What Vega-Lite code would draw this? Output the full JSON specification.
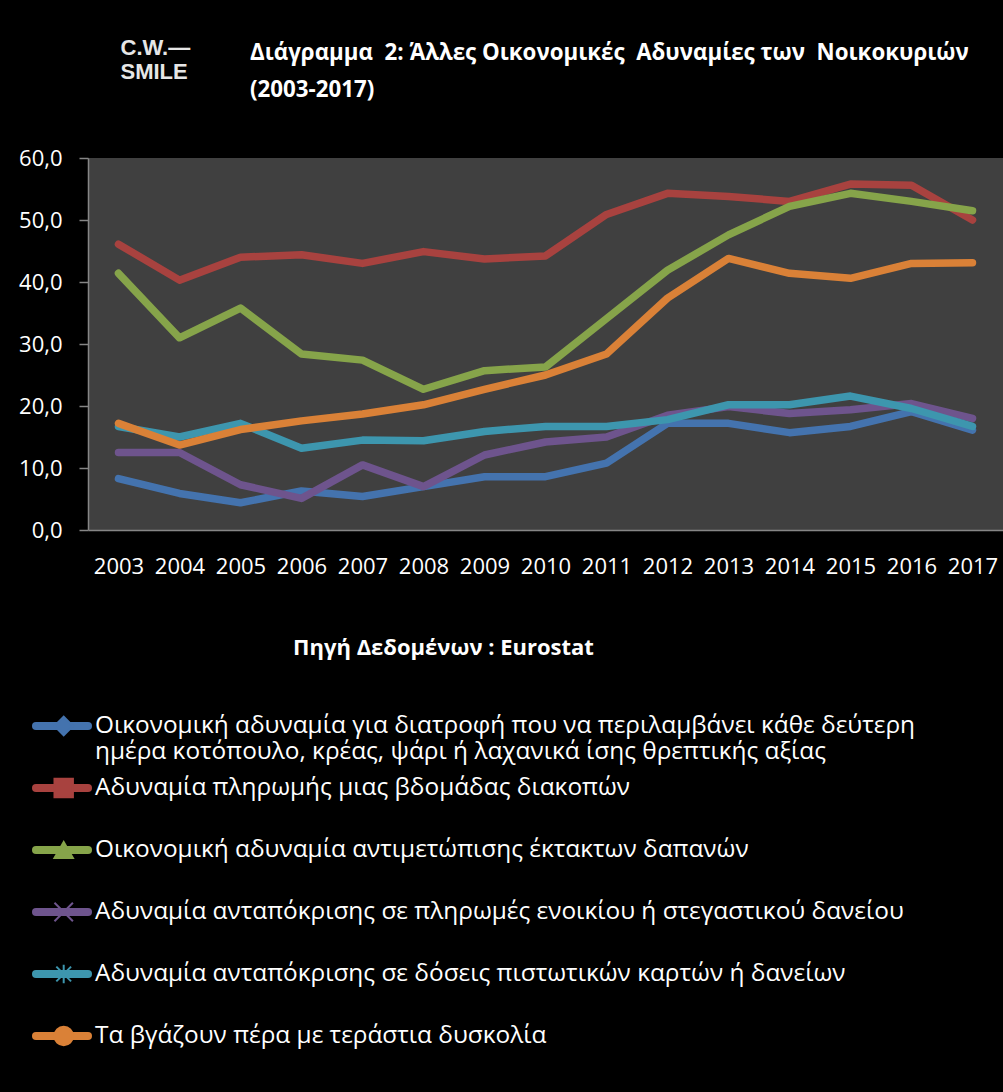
{
  "$schema": "https://vega.github.io/schema/vega-lite/v6.json",
  "width": 915,
  "height": 372,
  "autosize": {"type": "none"},
  "padding": {"left": 88, "top": 158, "right": 0, "bottom": 562},
  "background": "#000000",
  "config": {"view": {"fill": "#404040", "stroke": null}, "font": "Open Sans"},
  "title": {
    "text": ["Διάγραμμα\u00a0 2: Άλλες Οικονομικές\u00a0 Αδυναμίες των\u00a0 Νοικοκυριών", "(2003-2017)"],
    "anchor": "start",
    "frame": "group",
    "dx": 162,
    "dy": 65,
    "offset": 0,
    "font": "Open Sans",
    "fontSize": 22.3,
    "fontWeight": "bold",
    "color": "#ffffff",
    "lineHeight": 37
  },
  "data": {
    "values": [
      {"series": "Οικονομική αδυναμία για διατροφή που να περιλαμβάνει κάθε δεύτερη ημέρα κοτόπουλο, κρέας, ψάρι ή λαχανικά ίσης θρεπτικής αξίας", "year": 2003, "value": 8.3},
      {"series": "Οικονομική αδυναμία για διατροφή που να περιλαμβάνει κάθε δεύτερη ημέρα κοτόπουλο, κρέας, ψάρι ή λαχανικά ίσης θρεπτικής αξίας", "year": 2004, "value": 5.9},
      {"series": "Οικονομική αδυναμία για διατροφή που να περιλαμβάνει κάθε δεύτερη ημέρα κοτόπουλο, κρέας, ψάρι ή λαχανικά ίσης θρεπτικής αξίας", "year": 2005, "value": 4.4},
      {"series": "Οικονομική αδυναμία για διατροφή που να περιλαμβάνει κάθε δεύτερη ημέρα κοτόπουλο, κρέας, ψάρι ή λαχανικά ίσης θρεπτικής αξίας", "year": 2006, "value": 6.3},
      {"series": "Οικονομική αδυναμία για διατροφή που να περιλαμβάνει κάθε δεύτερη ημέρα κοτόπουλο, κρέας, ψάρι ή λαχανικά ίσης θρεπτικής αξίας", "year": 2007, "value": 5.4},
      {"series": "Οικονομική αδυναμία για διατροφή που να περιλαμβάνει κάθε δεύτερη ημέρα κοτόπουλο, κρέας, ψάρι ή λαχανικά ίσης θρεπτικής αξίας", "year": 2008, "value": 7.0},
      {"series": "Οικονομική αδυναμία για διατροφή που να περιλαμβάνει κάθε δεύτερη ημέρα κοτόπουλο, κρέας, ψάρι ή λαχανικά ίσης θρεπτικής αξίας", "year": 2009, "value": 8.6},
      {"series": "Οικονομική αδυναμία για διατροφή που να περιλαμβάνει κάθε δεύτερη ημέρα κοτόπουλο, κρέας, ψάρι ή λαχανικά ίσης θρεπτικής αξίας", "year": 2010, "value": 8.6},
      {"series": "Οικονομική αδυναμία για διατροφή που να περιλαμβάνει κάθε δεύτερη ημέρα κοτόπουλο, κρέας, ψάρι ή λαχανικά ίσης θρεπτικής αξίας", "year": 2011, "value": 10.8},
      {"series": "Οικονομική αδυναμία για διατροφή που να περιλαμβάνει κάθε δεύτερη ημέρα κοτόπουλο, κρέας, ψάρι ή λαχανικά ίσης θρεπτικής αξίας", "year": 2012, "value": 17.2},
      {"series": "Οικονομική αδυναμία για διατροφή που να περιλαμβάνει κάθε δεύτερη ημέρα κοτόπουλο, κρέας, ψάρι ή λαχανικά ίσης θρεπτικής αξίας", "year": 2013, "value": 17.2},
      {"series": "Οικονομική αδυναμία για διατροφή που να περιλαμβάνει κάθε δεύτερη ημέρα κοτόπουλο, κρέας, ψάρι ή λαχανικά ίσης θρεπτικής αξίας", "year": 2014, "value": 15.7},
      {"series": "Οικονομική αδυναμία για διατροφή που να περιλαμβάνει κάθε δεύτερη ημέρα κοτόπουλο, κρέας, ψάρι ή λαχανικά ίσης θρεπτικής αξίας", "year": 2015, "value": 16.7},
      {"series": "Οικονομική αδυναμία για διατροφή που να περιλαμβάνει κάθε δεύτερη ημέρα κοτόπουλο, κρέας, ψάρι ή λαχανικά ίσης θρεπτικής αξίας", "year": 2016, "value": 19.1},
      {"series": "Οικονομική αδυναμία για διατροφή που να περιλαμβάνει κάθε δεύτερη ημέρα κοτόπουλο, κρέας, ψάρι ή λαχανικά ίσης θρεπτικής αξίας", "year": 2017, "value": 16.1},
      {"series": "Αδυναμία πληρωμής μιας βδομάδας διακοπών", "year": 2003, "value": 46.1},
      {"series": "Αδυναμία πληρωμής μιας βδομάδας διακοπών", "year": 2004, "value": 40.3},
      {"series": "Αδυναμία πληρωμής μιας βδομάδας διακοπών", "year": 2005, "value": 44.0},
      {"series": "Αδυναμία πληρωμής μιας βδομάδας διακοπών", "year": 2006, "value": 44.4},
      {"series": "Αδυναμία πληρωμής μιας βδομάδας διακοπών", "year": 2007, "value": 43.0},
      {"series": "Αδυναμία πληρωμής μιας βδομάδας διακοπών", "year": 2008, "value": 44.9},
      {"series": "Αδυναμία πληρωμής μιας βδομάδας διακοπών", "year": 2009, "value": 43.7},
      {"series": "Αδυναμία πληρωμής μιας βδομάδας διακοπών", "year": 2010, "value": 44.2},
      {"series": "Αδυναμία πληρωμής μιας βδομάδας διακοπών", "year": 2011, "value": 50.9},
      {"series": "Αδυναμία πληρωμής μιας βδομάδας διακοπών", "year": 2012, "value": 54.3},
      {"series": "Αδυναμία πληρωμής μιας βδομάδας διακοπών", "year": 2013, "value": 53.8},
      {"series": "Αδυναμία πληρωμής μιας βδομάδας διακοπών", "year": 2014, "value": 53.0},
      {"series": "Αδυναμία πληρωμής μιας βδομάδας διακοπών", "year": 2015, "value": 55.8},
      {"series": "Αδυναμία πληρωμής μιας βδομάδας διακοπών", "year": 2016, "value": 55.6},
      {"series": "Αδυναμία πληρωμής μιας βδομάδας διακοπών", "year": 2017, "value": 50.0},
      {"series": "Οικονομική αδυναμία αντιμετώπισης έκτακτων δαπανών", "year": 2003, "value": 41.4},
      {"series": "Οικονομική αδυναμία αντιμετώπισης έκτακτων δαπανών", "year": 2004, "value": 31.0},
      {"series": "Οικονομική αδυναμία αντιμετώπισης έκτακτων δαπανών", "year": 2005, "value": 35.8},
      {"series": "Οικονομική αδυναμία αντιμετώπισης έκτακτων δαπανών", "year": 2006, "value": 28.4},
      {"series": "Οικονομική αδυναμία αντιμετώπισης έκτακτων δαπανών", "year": 2007, "value": 27.4},
      {"series": "Οικονομική αδυναμία αντιμετώπισης έκτακτων δαπανών", "year": 2008, "value": 22.7},
      {"series": "Οικονομική αδυναμία αντιμετώπισης έκτακτων δαπανών", "year": 2009, "value": 25.7},
      {"series": "Οικονομική αδυναμία αντιμετώπισης έκτακτων δαπανών", "year": 2010, "value": 26.3},
      {"series": "Οικονομική αδυναμία αντιμετώπισης έκτακτων δαπανών", "year": 2011, "value": 34.1},
      {"series": "Οικονομική αδυναμία αντιμετώπισης έκτακτων δαπανών", "year": 2012, "value": 41.9},
      {"series": "Οικονομική αδυναμία αντιμετώπισης έκτακτων δαπανών", "year": 2013, "value": 47.6},
      {"series": "Οικονομική αδυναμία αντιμετώπισης έκτακτων δαπανών", "year": 2014, "value": 52.2},
      {"series": "Οικονομική αδυναμία αντιμετώπισης έκτακτων δαπανών", "year": 2015, "value": 54.3},
      {"series": "Οικονομική αδυναμία αντιμετώπισης έκτακτων δαπανών", "year": 2016, "value": 53.0},
      {"series": "Οικονομική αδυναμία αντιμετώπισης έκτακτων δαπανών", "year": 2017, "value": 51.5},
      {"series": "Αδυναμία ανταπόκρισης σε πληρωμές ενοικίου ή στεγαστικού δανείου", "year": 2003, "value": 12.5},
      {"series": "Αδυναμία ανταπόκρισης σε πληρωμές ενοικίου ή στεγαστικού δανείου", "year": 2004, "value": 12.5},
      {"series": "Αδυναμία ανταπόκρισης σε πληρωμές ενοικίου ή στεγαστικού δανείου", "year": 2005, "value": 7.3},
      {"series": "Αδυναμία ανταπόκρισης σε πληρωμές ενοικίου ή στεγαστικού δανείου", "year": 2006, "value": 5.1},
      {"series": "Αδυναμία ανταπόκρισης σε πληρωμές ενοικίου ή στεγαστικού δανείου", "year": 2007, "value": 10.5},
      {"series": "Αδυναμία ανταπόκρισης σε πληρωμές ενοικίου ή στεγαστικού δανείου", "year": 2008, "value": 7.0},
      {"series": "Αδυναμία ανταπόκρισης σε πληρωμές ενοικίου ή στεγαστικού δανείου", "year": 2009, "value": 12.1},
      {"series": "Αδυναμία ανταπόκρισης σε πληρωμές ενοικίου ή στεγαστικού δανείου", "year": 2010, "value": 14.2},
      {"series": "Αδυναμία ανταπόκρισης σε πληρωμές ενοικίου ή στεγαστικού δανείου", "year": 2011, "value": 15.0},
      {"series": "Αδυναμία ανταπόκρισης σε πληρωμές ενοικίου ή στεγαστικού δανείου", "year": 2012, "value": 18.5},
      {"series": "Αδυναμία ανταπόκρισης σε πληρωμές ενοικίου ή στεγαστικού δανείου", "year": 2013, "value": 19.9},
      {"series": "Αδυναμία ανταπόκρισης σε πληρωμές ενοικίου ή στεγαστικού δανείου", "year": 2014, "value": 18.8},
      {"series": "Αδυναμία ανταπόκρισης σε πληρωμές ενοικίου ή στεγαστικού δανείου", "year": 2015, "value": 19.4},
      {"series": "Αδυναμία ανταπόκρισης σε πληρωμές ενοικίου ή στεγαστικού δανείου", "year": 2016, "value": 20.4},
      {"series": "Αδυναμία ανταπόκρισης σε πληρωμές ενοικίου ή στεγαστικού δανείου", "year": 2017, "value": 18.0},
      {"series": "Αδυναμία ανταπόκρισης σε δόσεις πιστωτικών καρτών ή δανείων", "year": 2003, "value": 16.7},
      {"series": "Αδυναμία ανταπόκρισης σε δόσεις πιστωτικών καρτών ή δανείων", "year": 2004, "value": 15.0},
      {"series": "Αδυναμία ανταπόκρισης σε δόσεις πιστωτικών καρτών ή δανείων", "year": 2005, "value": 17.2},
      {"series": "Αδυναμία ανταπόκρισης σε δόσεις πιστωτικών καρτών ή δανείων", "year": 2006, "value": 13.2},
      {"series": "Αδυναμία ανταπόκρισης σε δόσεις πιστωτικών καρτών ή δανείων", "year": 2007, "value": 14.5},
      {"series": "Αδυναμία ανταπόκρισης σε δόσεις πιστωτικών καρτών ή δανείων", "year": 2008, "value": 14.4},
      {"series": "Αδυναμία ανταπόκρισης σε δόσεις πιστωτικών καρτών ή δανείων", "year": 2009, "value": 15.9},
      {"series": "Αδυναμία ανταπόκρισης σε δόσεις πιστωτικών καρτών ή δανείων", "year": 2010, "value": 16.7},
      {"series": "Αδυναμία ανταπόκρισης σε δόσεις πιστωτικών καρτών ή δανείων", "year": 2011, "value": 16.7},
      {"series": "Αδυναμία ανταπόκρισης σε δόσεις πιστωτικών καρτών ή δανείων", "year": 2012, "value": 17.8},
      {"series": "Αδυναμία ανταπόκρισης σε δόσεις πιστωτικών καρτών ή δανείων", "year": 2013, "value": 20.2},
      {"series": "Αδυναμία ανταπόκρισης σε δόσεις πιστωτικών καρτών ή δανείων", "year": 2014, "value": 20.2},
      {"series": "Αδυναμία ανταπόκρισης σε δόσεις πιστωτικών καρτών ή δανείων", "year": 2015, "value": 21.6},
      {"series": "Αδυναμία ανταπόκρισης σε δόσεις πιστωτικών καρτών ή δανείων", "year": 2016, "value": 19.6},
      {"series": "Αδυναμία ανταπόκρισης σε δόσεις πιστωτικών καρτών ή δανείων", "year": 2017, "value": 16.7},
      {"series": "Τα βγάζουν πέρα με τεράστια δυσκολία", "year": 2003, "value": 17.2},
      {"series": "Τα βγάζουν πέρα με τεράστια δυσκολία", "year": 2004, "value": 13.7},
      {"series": "Τα βγάζουν πέρα με τεράστια δυσκολία", "year": 2005, "value": 16.2},
      {"series": "Τα βγάζουν πέρα με τεράστια δυσκολία", "year": 2006, "value": 17.6},
      {"series": "Τα βγάζουν πέρα με τεράστια δυσκολία", "year": 2007, "value": 18.7},
      {"series": "Τα βγάζουν πέρα με τεράστια δυσκολία", "year": 2008, "value": 20.2},
      {"series": "Τα βγάζουν πέρα με τεράστια δυσκολία", "year": 2009, "value": 22.7},
      {"series": "Τα βγάζουν πέρα με τεράστια δυσκολία", "year": 2010, "value": 25.0},
      {"series": "Τα βγάζουν πέρα με τεράστια δυσκολία", "year": 2011, "value": 28.4},
      {"series": "Τα βγάζουν πέρα με τεράστια δυσκολία", "year": 2012, "value": 37.4},
      {"series": "Τα βγάζουν πέρα με τεράστια δυσκολία", "year": 2013, "value": 43.8},
      {"series": "Τα βγάζουν πέρα με τεράστια δυσκολία", "year": 2014, "value": 41.4},
      {"series": "Τα βγάζουν πέρα με τεράστια δυσκολία", "year": 2015, "value": 40.6},
      {"series": "Τα βγάζουν πέρα με τεράστια δυσκολία", "year": 2016, "value": 43.0},
      {"series": "Τα βγάζουν πέρα με τεράστια δυσκολία", "year": 2017, "value": 43.1}
    ]
  },
  "encoding": {
    "x": {
      "field": "year",
      "type": "ordinal",
      "scale": {"type": "point", "padding": 0.5},
      "axis": {
        "labelAngle": 0,
        "labelColor": "#ffffff",
        "labelFontSize": 22,
        "labelFont": "Open Sans",
        "labelBaseline": "middle",
        "ticks": false,
        "tickSize": 0,
        "labelPadding": 36,
        "domainColor": "#868686",
        "domainWidth": 1.5,
        "grid": false,
        "title": "Πηγή Δεδομένων : Eurostat",
        "titleColor": "#ffffff",
        "titleFont": "Open Sans",
        "titleFontSize": 22,
        "titleFontWeight": "bold",
        "titleX": 355,
        "titleY": 117,
        "titleBaseline": "middle",
        "titleAlign": "center"
      }
    },
    "y": {
      "field": "value",
      "type": "quantitative",
      "scale": {"domain": [0, 60], "nice": false},
      "axis": {
        "values": [0, 10, 20, 30, 40, 50, 60],
        "labelExpr": "replace(format(datum.value, '.1f'), '.', ',')",
        "labelColor": "#ffffff",
        "labelFontSize": 22,
        "labelFont": "Open Sans",
        "labelPadding": 17,
        "tickSize": 9,
        "tickColor": "#868686",
        "tickWidth": 1.5,
        "domainColor": "#868686",
        "domainWidth": 1.5,
        "grid": false,
        "title": ["C.W.—", "SMILE"],
        "titleAngle": 0,
        "titleX": 32,
        "titleY": -121,
        "titleAlign": "left",
        "titleBaseline": "top",
        "titleColor": "#e6e6e6",
        "titleFont": "Liberation Sans",
        "titleFontSize": 22,
        "titleFontWeight": "bold",
        "titleLineHeight": 24
      }
    }
  },
  "layer": [
    {
      "mark": {"type": "line", "strokeWidth": 7.5, "strokeCap": "round", "strokeJoin": "round"},
      "encoding": {
        "color": {
          "field": "series",
          "type": "nominal",
          "scale": {
            "domain": [
              "Οικονομική αδυναμία για διατροφή που να περιλαμβάνει κάθε δεύτερη ημέρα κοτόπουλο, κρέας, ψάρι ή λαχανικά ίσης θρεπτικής αξίας",
              "Αδυναμία πληρωμής μιας βδομάδας διακοπών",
              "Οικονομική αδυναμία αντιμετώπισης έκτακτων δαπανών",
              "Αδυναμία ανταπόκρισης σε πληρωμές ενοικίου ή στεγαστικού δανείου",
              "Αδυναμία ανταπόκρισης σε δόσεις πιστωτικών καρτών ή δανείων",
              "Τα βγάζουν πέρα με τεράστια δυσκολία"
            ],
            "range": ["#4473AE", "#A8423F", "#86A44A", "#6E548D", "#3D96AE", "#DA8137"]
          },
          "legend": {
            "orient": "none",
            "legendX": -56,
            "legendY": 557,
            "padding": 0,
            "direction": "vertical",
            "title": null,
            "labelColor": "#ffffff",
            "labelFont": "Open Sans",
            "labelFontSize": 24.4,
            "labelLimit": 1000,
            "labelOffset": 3,
            "symbolType": "stroke",
            "symbolSize": 2704,
            "symbolStrokeWidth": 8,
            "clipHeight": 22,
            "rowPadding": 11,
            "labelExpr": "length(datum.label) > 100 ? ['Οικονομική αδυναμία για διατροφή που να περιλαμβάνει κάθε δεύτερη', 'ημέρα κοτόπουλο, κρέας, ψάρι ή λαχανικά ίσης θρεπτικής αξίας'] : [datum.label, '']",
            "encoding": {
              "symbols": {"strokeCap": {"value": "round"}}
            }
          }
        }
      }
    },
    {
      "mark": {"type": "point", "opacity": 0, "filled": true, "size": 340},
      "encoding": {
        "shape": {
          "field": "series",
          "type": "nominal",
          "sort": [
            "Οικονομική αδυναμία για διατροφή που να περιλαμβάνει κάθε δεύτερη ημέρα κοτόπουλο, κρέας, ψάρι ή λαχανικά ίσης θρεπτικής αξίας",
            "Αδυναμία πληρωμής μιας βδομάδας διακοπών",
            "Οικονομική αδυναμία αντιμετώπισης έκτακτων δαπανών",
            "Αδυναμία ανταπόκρισης σε πληρωμές ενοικίου ή στεγαστικού δανείου",
            "Αδυναμία ανταπόκρισης σε δόσεις πιστωτικών καρτών ή δανείων",
            "Τα βγάζουν πέρα με τεράστια δυσκολία"
          ],
          "scale": {
            "range": ["diamond", "square", "triangle-up", "M-1,-1L1,1M-1,1L1,-1", "M0,-1L0,1M-0.8,-0.8L0.8,0.8M-0.8,0.8L0.8,-0.8", "circle"]
          },
          "legend": {
            "orient": "none",
            "legendX": -56,
            "legendY": 557,
            "padding": 0,
            "direction": "vertical",
            "title": null,
            "labelColor": "#000000",
            "labelOpacity": 0,
            "labelFont": "Open Sans",
            "labelFontSize": 24.4,
            "labelLimit": 1000,
            "labelOffset": 3,
            "symbolSize": 340,
            "symbolStrokeWidth": 2,
            "symbolOffset": 19.5,
            "symbolOpacity": 1,
            "clipHeight": 22,
            "rowPadding": 11,
            "labelExpr": "['', '']",
            "encoding": {
              "symbols": {
                "fill": {"value": {"expr": "scale('color', datum.value)"}},
                "stroke": {"value": {"expr": "scale('color', datum.value)"}},
                "opacity": {"value": 1},
                "fillOpacity": {"value": 1},
                "strokeOpacity": {"value": 1}
              }
            }
          }
        }
      }
    }
  ]
}
